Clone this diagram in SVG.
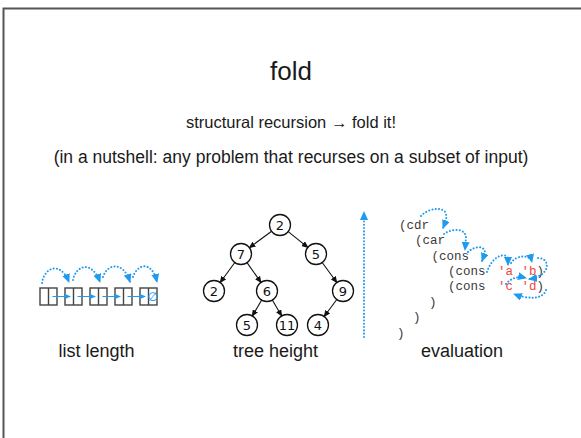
<svg xmlns="http://www.w3.org/2000/svg" width="581" height="438" viewBox="0 0 581 438">
  <defs>
    <style>
      .sans { font-family: "Liberation Sans", Arial, Helvetica, sans-serif; fill: #1a1a1a; }
      .mono { font-family: "Liberation Mono", "Courier New", monospace; font-size: 12.5px; fill: #3a3a3a; }
      .red { fill: #f0453a; }
      .cell { fill: #fff; stroke: #444; stroke-width: 1.4; }
      .tnode circle { fill: #fff; stroke: #111; stroke-width: 1.3; }
      .tnode text { font-family: "DejaVu Sans", sans-serif; font-size: 13px; fill: #111; text-anchor: middle; }
      .edge { stroke: #111; stroke-width: 1.1; fill: none; marker-end: url(#blackHead); }
      .dots { stroke: #1e9bf0; stroke-width: 2; fill: none; stroke-dasharray: 0.1 3.2; stroke-linecap: round; marker-end: url(#blueHead); }
      .link { stroke: #1e9bf0; stroke-width: 1; fill: none; marker-end: url(#blueSmall); }
    </style>
    <marker id="blueHead" markerUnits="userSpaceOnUse" markerWidth="9" markerHeight="8" refX="8" refY="4" orient="auto">
      <path d="M0,0 L9,4 L0,8 z" fill="#1e9bf0"/>
    </marker>
    <marker id="blueSmall" markerUnits="userSpaceOnUse" markerWidth="6" markerHeight="5" refX="5" refY="2.5" orient="auto">
      <path d="M0,0 L6,2.5 L0,5 z" fill="#1e9bf0"/>
    </marker>
    <marker id="blackHead" markerUnits="userSpaceOnUse" markerWidth="7" markerHeight="6" refX="6" refY="3" orient="auto">
      <path d="M0,0 L7,3 L0,6 z" fill="#111"/>
    </marker>
  </defs>

  <rect width="581" height="438" fill="#fff"/>
  <!-- slide frame -->
  <path d="M3.5,438 V8.5 H581" fill="none" stroke="#555" stroke-width="2"/>

  <!-- headings -->
  <text class="sans" x="291" y="80" font-size="26" text-anchor="middle">fold</text>
  <text class="sans" x="291" y="128" font-size="16.5" text-anchor="middle">structural recursion → fold it!</text>
  <text class="sans" x="291" y="163" font-size="17.5" text-anchor="middle">(in a nutshell: any problem that recurses on a subset of input)</text>

  <!-- list cells -->
  <g id="cell1"><rect class="cell" x="40" y="288" width="17" height="17"/><line x1="48.5" y1="288" x2="48.5" y2="305" stroke="#444" stroke-width="1.4"/></g>
  <g id="cell2"><rect class="cell" x="65" y="288" width="17" height="17"/><line x1="73.5" y1="288" x2="73.5" y2="305" stroke="#444" stroke-width="1.4"/></g>
  <g id="cell3"><rect class="cell" x="90" y="288" width="17" height="17"/><line x1="98.5" y1="288" x2="98.5" y2="305" stroke="#444" stroke-width="1.4"/></g>
  <g id="cell4"><rect class="cell" x="115" y="288" width="17" height="17"/><line x1="123.5" y1="288" x2="123.5" y2="305" stroke="#444" stroke-width="1.4"/></g>
  <g id="cell5"><rect class="cell" x="140" y="288" width="17" height="17"/><line x1="148.5" y1="288" x2="148.5" y2="305" stroke="#444" stroke-width="1.4"/>
    <text x="152.8" y="300.5" font-family="DejaVu Sans, sans-serif" font-size="12" fill="#1e9bf0" text-anchor="middle">∅</text></g>

  <!-- tree nodes -->
  <g id="t-root" class="tnode"><circle cx="280" cy="225" r="10.5"/><text x="280" y="229.7">2</text></g>
  <g id="t-7" class="tnode"><circle cx="241" cy="254" r="10.5"/><text x="241" y="258.7">7</text></g>
  <g id="t-5a" class="tnode"><circle cx="316" cy="254" r="10.5"/><text x="316" y="258.7">5</text></g>
  <g id="t-2" class="tnode"><circle cx="214" cy="291" r="10.5"/><text x="214" y="295.7">2</text></g>
  <g id="t-6" class="tnode"><circle cx="267" cy="291" r="10.5"/><text x="267" y="295.7">6</text></g>
  <g id="t-9" class="tnode"><circle cx="343" cy="291" r="10.5"/><text x="343" y="295.7">9</text></g>
  <g id="t-5b" class="tnode"><circle cx="247" cy="325" r="10.5"/><text x="247" y="329.7">5</text></g>
  <g id="t-11" class="tnode"><circle cx="287" cy="325" r="10.5"/><text x="287" y="329.7">11</text></g>
  <g id="t-4" class="tnode"><circle cx="318" cy="325" r="10.5"/><text x="318" y="329.7">4</text></g>

  <!-- evaluation code -->
  <g id="code">
    <text class="mono" x="399" y="228.5">(cdr</text>
    <text class="mono" x="415" y="244">(car</text>
    <text class="mono" x="431.5" y="259.5">(cons</text>
    <text class="mono" x="448" y="274.5">(cons <tspan class="red" x="498">'a</tspan><tspan class="red" x="521.5">'b</tspan>)</text>
    <text class="mono" x="448" y="290">(cons <tspan class="red" x="498">'c</tspan><tspan class="red" x="521.5">'d</tspan>)</text>
    <text class="mono" x="429" y="305.5">)</text>
    <text class="mono" x="413" y="321">)</text>
    <text class="mono" x="397" y="336.5">)</text>
  </g>

  <!-- labels -->
  <text class="sans" x="96.5" y="357" font-size="18" text-anchor="middle">list length</text>
  <text class="sans" x="275.5" y="357" font-size="18" text-anchor="middle">tree height</text>
  <text class="sans" x="462" y="357" font-size="18" text-anchor="middle">evaluation</text>

  <g id="connectors">
    <!-- list links -->
    <line class="link" x1="52.5" y1="296.5" x2="70" y2="296.5"/>
    <line class="link" x1="77.5" y1="296.5" x2="95" y2="296.5"/>
    <line class="link" x1="102.5" y1="296.5" x2="120" y2="296.5"/>
    <line class="link" x1="127.5" y1="296.5" x2="145" y2="296.5"/>
    <!-- list folding arcs -->
    <path class="dots" d="M42,283 C44,268 60,260 69,282"/>
    <path class="dots" d="M73,280 C76,265 92,260 100,282"/>
    <path class="dots" d="M103,277 C107,264 123,260 130,282"/>
    <path class="dots" d="M133,277 C137,264 152,260 157,282"/>
    <!-- tree edges -->
    <line class="edge" x1="271.6" y1="231.3" x2="249.4" y2="247.7"/>
    <line class="edge" x1="288.2" y1="231.6" x2="307.8" y2="247.4"/>
    <line class="edge" x1="234.8" y1="262.5" x2="220.2" y2="282.5"/>
    <line class="edge" x1="247" y1="262.6" x2="261" y2="282.4"/>
    <line class="edge" x1="322.2" y1="262.5" x2="336.8" y2="282.5"/>
    <line class="edge" x1="261.7" y1="300" x2="252.3" y2="316"/>
    <line class="edge" x1="272.3" y1="300" x2="281.7" y2="316"/>
    <line class="edge" x1="336.8" y1="299.5" x2="324.2" y2="316.5"/>
    <!-- evaluation -->
    <path class="dots" d="M364,337 V212"/>
    <path class="dots" d="M421,216 C428,208 444,206 446,214 C447,219 445,223 443,228"/>
    <path class="dots" d="M444,234 C452,228 466,228 466,238 L465,250"/>
    <path class="dots" d="M468,252 C474,246 485,245 485,253 L482,261"/>
    <path class="dots" d="M487,272 C492,256 505,252 508,258 L508,265"/>
    <path class="dots" d="M511,263 C516,255 530,254 532,262"/>
    <path class="dots" d="M538,258 C551,258 551,276 529,279"/>
    <path class="dots" d="M506,284 C511,278 518,276 526,278"/>
    <path class="dots" d="M546,290 C543,300 527,299 514,294"/>
  </g>
</svg>
